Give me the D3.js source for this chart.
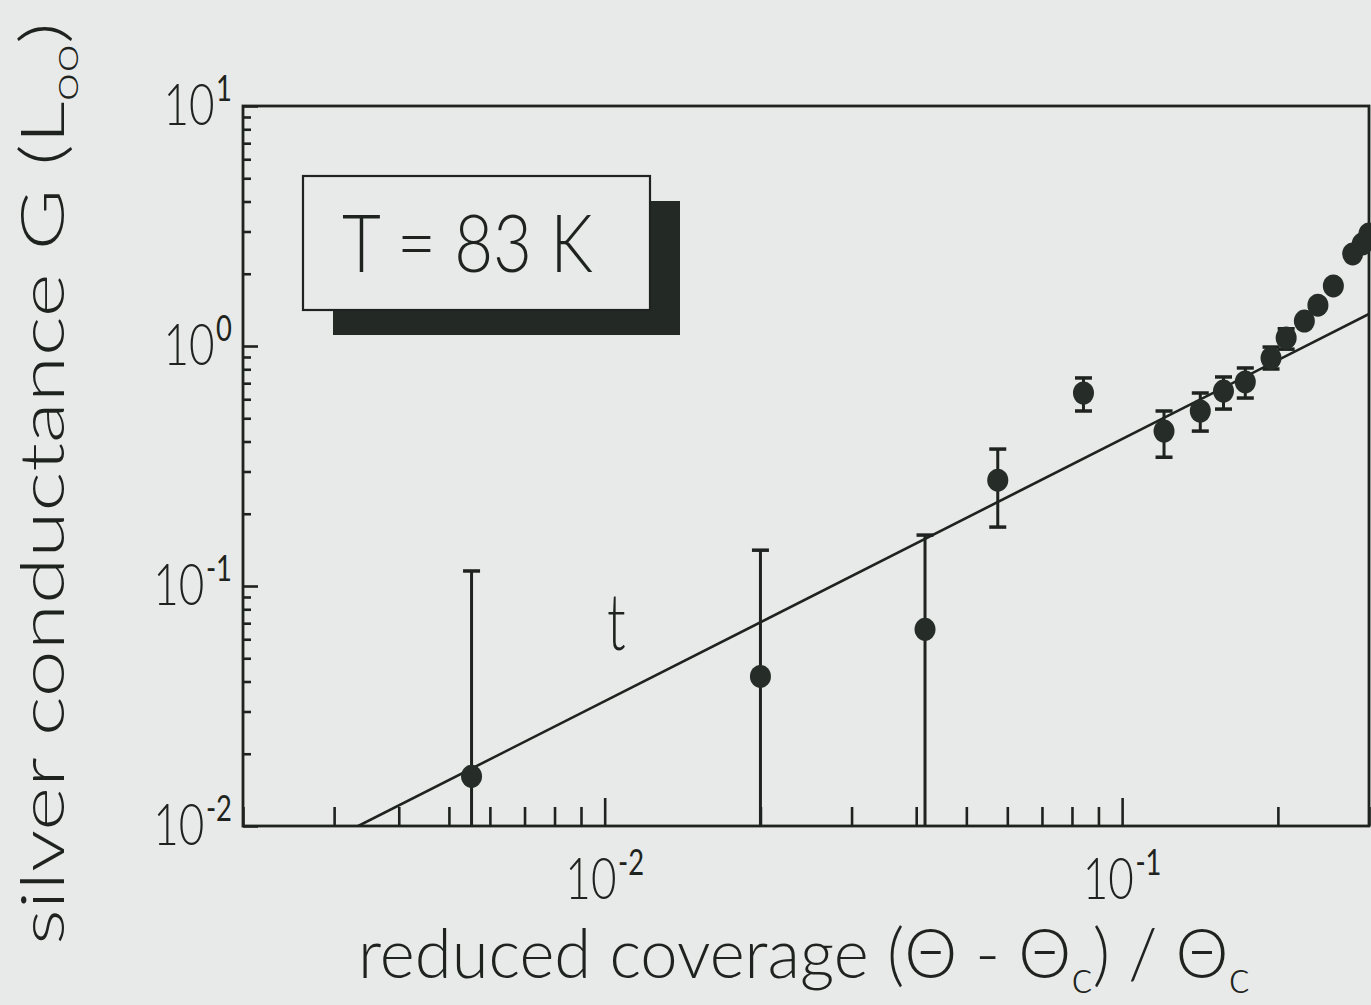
<!DOCTYPE html>
<html>
<head>
<meta charset="utf-8">
<script src="https://cdn.jsdelivr.net/npm/d3@7"></script>
<style>
  html, body { margin: 0; padding: 0; background: #e7eae8; }
  svg { display: block; }
  text { font-family: Lato, "Open Sans", "DejaVu Sans", sans-serif; font-weight: 300; fill: #1e2320; }
</style>
</head>
<body>
<svg id="chart" width="1371" height="1005"></svg>
<script>
// Silver film conductance vs. reduced coverage, T = 83 K
const coverage    = [0.00553, 0.0200, 0.0416, 0.0575, 0.0842, 0.1205, 0.1416, 0.157, 0.173, 0.194, 0.2075, 0.225, 0.239, 0.256, 0.279, 0.291, 0.300];
const conductance = [0.0161, 0.042, 0.066, 0.276, 0.637, 0.442, 0.536, 0.649, 0.708, 0.891, 1.08, 1.27, 1.48, 1.78, 2.42, 2.66, 2.93];
const errHigh     = [0.1155, 0.141, 0.163, 0.372, 0.736, 0.536, 0.637, 0.743, 0.810, 0.99, 1.18, null, null, null, null, null, null];
const errLow      = [0.001, 0.001, 0.001, 0.176, 0.536, 0.344, 0.442, 0.546, 0.607, 0.802, 0.97, null, null, null, null, null, null];

// power-law fit G ~ x^t, given by its two end points
const fitCoverage    = [0.00334, 0.30];
const fitConductance = [0.01, 1.36];

const xDomain = [0.002, 0.3];
const yDomain = [0.01, 10];
const xLabelExponents = [-2, -1];
const yLabelExponents = [-2, -1, 0, 1];

const legendText = "T = 83 K";
const exponentLabel = "t";

const ink = "#1e2320";
const bg = "#e7eae8";

const svg = d3.select("#chart");
svg.append("rect").attr("width", 1371).attr("height", 1005).attr("fill", bg);

const plot = { left: 243, right: 1369, top: 106, bottom: 826 };
const x = d3.scaleLog().domain(xDomain).range([plot.left, plot.right]);
const y = d3.scaleLog().domain(yDomain).range([plot.bottom, plot.top]);

const isDecade = v => Math.abs(Math.log10(v) - Math.round(Math.log10(v))) < 1e-9;

// ---- axes: inward ticks, minor & major lengths differ
const xTicks = x.ticks();
const yTicks = y.ticks();

function styleAxis(g) {
  g.select(".domain").remove();
  g.selectAll(".tick line").attr("stroke", ink).attr("stroke-width", 2.6);
  g.selectAll(".tick text").remove();
}

svg.append("g").attr("transform", `translate(0,${plot.bottom})`)
  .call(d3.axisBottom(x).tickValues(xTicks.filter(v => !isDecade(v))).tickSize(-19).tickFormat(""))
  .call(styleAxis);
svg.append("g").attr("transform", `translate(0,${plot.bottom})`)
  .call(d3.axisBottom(x).tickValues(xTicks.filter(isDecade)).tickSize(-28).tickFormat(""))
  .call(styleAxis);
svg.append("g").attr("transform", `translate(${plot.left},0)`)
  .call(d3.axisLeft(y).tickValues(yTicks.filter(v => !isDecade(v))).tickSize(-8).tickFormat(""))
  .call(styleAxis);
svg.append("g").attr("transform", `translate(${plot.left},0)`)
  .call(d3.axisLeft(y).tickValues(yTicks.filter(isDecade)).tickSize(-15).tickFormat(""))
  .call(styleAxis);

// frame
svg.append("rect")
  .attr("x", plot.left).attr("y", plot.top)
  .attr("width", plot.right - plot.left).attr("height", plot.bottom - plot.top)
  .attr("fill", "none").attr("stroke", ink).attr("stroke-width", 2.8);

// ---- power-of-ten tick labels
function powerLabel(parent, exp) {
  const g = parent.append("g");
  const t = g.append("text").attr("x", 0).attr("y", 0);
  t.append("tspan").attr("font-size", 58).text("10");
  t.append("tspan").attr("font-size", 36).attr("dy", -24).attr("dx", 2)
    .style("font-weight", 400)
    .text(exp < 0 ? "-" + Math.abs(exp) : String(exp));
  return { g, t };
}
const labelSqueeze = 0.76;

yLabelExponents.forEach(e => {
  const { g, t } = powerLabel(svg, e);
  const b = t.node().getBBox();
  const right = 232;
  g.attr("transform", `translate(${right - (b.x + b.width) * labelSqueeze},${y(Math.pow(10, e)) + 19}) scale(${labelSqueeze},1)`);
});
xLabelExponents.forEach(e => {
  const { g, t } = powerLabel(svg, e);
  const b = t.node().getBBox();
  const cx = x(Math.pow(10, e));
  g.attr("transform", `translate(${cx - (b.x + b.width / 2) * labelSqueeze},${899}) scale(${labelSqueeze},1)`);
});

// ---- fit line (clipped to the frame)
svg.append("clipPath").attr("id", "plotClip")
  .append("rect").attr("x", plot.left).attr("y", plot.top)
  .attr("width", plot.right - plot.left).attr("height", plot.bottom - plot.top);

svg.append("line")
  .attr("clip-path", "url(#plotClip)")
  .attr("x1", x(fitCoverage[0])).attr("y1", y(fitConductance[0]))
  .attr("x2", x(fitCoverage[1])).attr("y2", y(fitConductance[1]))
  .attr("stroke", ink).attr("stroke-width", 2.6);

// exponent label next to the fit
svg.append("g").attr("transform", "translate(607,650) scale(0.7,1)")
  .append("text").attr("font-size", 78).text(exponentLabel);

// ---- data with error bars
const points = coverage.map((c, i) => ({ c, g: conductance[i], hi: errHigh[i], lo: errLow[i] }));
const dots = svg.append("g");
const capW = 17;
points.forEach(p => {
  if (p.hi == null) return;
  const px = x(p.c);
  const yHi = y(p.hi);
  const yLo = Math.min(y(p.lo), plot.bottom);
  dots.append("line").attr("x1", px).attr("x2", px).attr("y1", yHi).attr("y2", yLo)
    .attr("stroke", ink).attr("stroke-width", 3);
  dots.append("line").attr("x1", px - capW / 2).attr("x2", px + capW / 2).attr("y1", yHi).attr("y2", yHi)
    .attr("stroke", ink).attr("stroke-width", 3.5);
  if (p.lo >= yDomain[0]) {
    dots.append("line").attr("x1", px - capW / 2).attr("x2", px + capW / 2).attr("y1", yLo).attr("y2", yLo)
      .attr("stroke", ink).attr("stroke-width", 3.5);
  }
});
dots.selectAll("ellipse").data(points).join("ellipse")
  .attr("cx", d => x(d.c)).attr("cy", d => y(d.g))
  .attr("rx", 10.5).attr("ry", 11.5)
  .attr("fill", "#262c28");

// ---- legend box with drop shadow
const box = { x: 303, y: 176, w: 347, h: 134, dx: 30, dy: 25 };
svg.append("rect").attr("x", box.x + box.dx).attr("y", box.y + box.dy)
  .attr("width", box.w).attr("height", box.h).attr("fill", "#232a26");
svg.append("rect").attr("x", box.x).attr("y", box.y)
  .attr("width", box.w).attr("height", box.h)
  .attr("fill", bg).attr("stroke", ink).attr("stroke-width", 2.2);
{
  const g = svg.append("g");
  const t = g.append("text").attr("font-size", 80).attr("xml:space", "preserve").text(legendText);
  const b = t.node().getBBox();
  const s = 251 / b.width;
  g.attr("transform", `translate(${342 - b.x * s},272) scale(${s},1)`);
}

// ---- axis titles
{
  const g = svg.append("g");
  const t = g.append("text").attr("font-size", 68);
  t.append("tspan").text("reduced coverage (\u0398 - \u0398");
  t.append("tspan").attr("font-size", 46).attr("dy", 15).text("c");
  t.append("tspan").attr("dy", -15).text(") / \u0398");
  t.append("tspan").attr("font-size", 46).attr("dy", 15).text("c");
  const b = t.node().getBBox();
  const s = (1250 - 358) / b.width;
  g.attr("transform", `translate(${358 - b.x * s},978) scale(${s},1)`);
}
{
  const g = svg.append("g");
  const t = g.append("text").attr("font-size", 62);
  t.append("tspan").text("silver conductance G (L");
  t.append("tspan").attr("font-size", 38).attr("dy", 14).text("oo");
  t.append("tspan").attr("dy", -14).text(")");
  const b = t.node().getBBox();
  const s = (945 - 22) / b.width;
  g.attr("transform", `translate(64,${945 + b.x * s}) rotate(-90) scale(${s},1)`);
}
</script>
</body>
</html>
